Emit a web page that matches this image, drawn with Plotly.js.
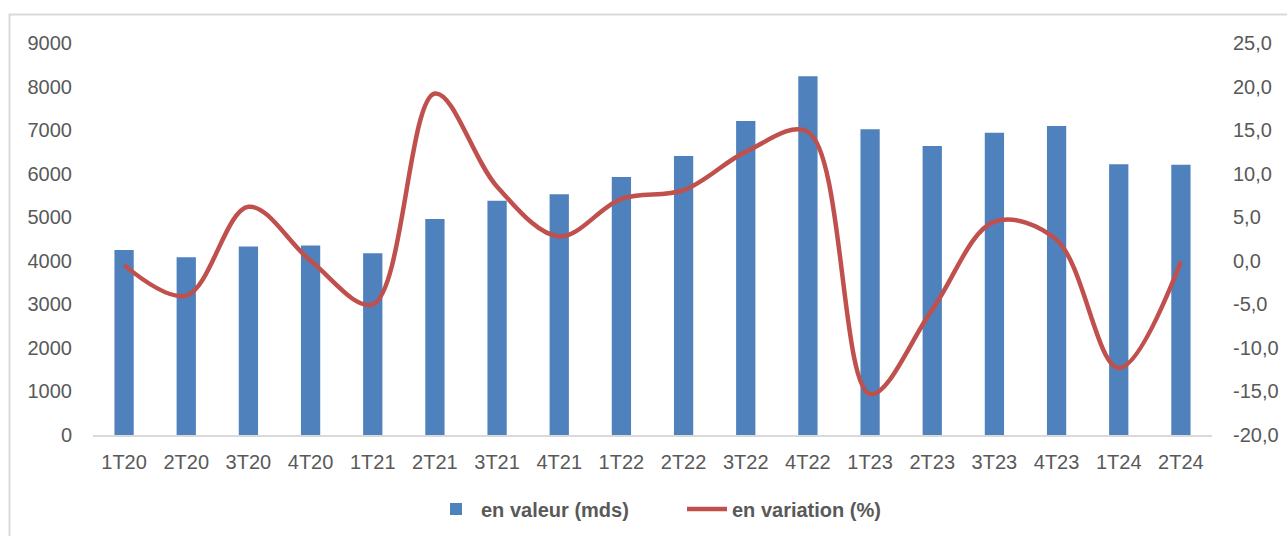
<!DOCTYPE html>
<html>
<head>
<meta charset="utf-8">
<script src="https://cdn.plot.ly/plotly-3.0.1.min.js"></script>
<style>
html,body{margin:0;padding:0;background:#fff;}
#chart{width:1287px;height:536px;}
</style>
</head>
<body>
<div id="chart"></div>
<script>
const categories = ['1T20','2T20','3T20','4T20','1T21','2T21','3T21','4T21','1T22','2T22','3T22','4T22','1T23','2T23','3T23','4T23','1T24','2T24'];
const valeur = [4250,4080,4330,4350,4170,4960,5380,5525,5925,6405,7210,8235,7020,6635,6940,7095,6215,6205];
const variation = [-0.5,-4.0,6.2,0.0,-5.0,19.2,8.5,2.8,7.1,8.1,12.5,14.8,-15.3,-5.6,4.5,2.4,-12.3,-0.1];
const leftTickVals = [0,1000,2000,3000,4000,5000,6000,7000,8000,9000];
const rightTickVals = [-20,-15,-10,-5,0,5,10,15,20,25];
const rightTickLabels = ['-20,0','-15,0','-10,0','-5,0','0,0','5,0','10,0','15,0','20,0','25,0'];
const seriesNames = ['en valeur (mds)','en variation (%)'];

const fontFamily = 'Liberation Sans, Arial, sans-serif';
const tickColor = '#595959';

const traces = [
  {
    type: 'bar',
    name: seriesNames[0],
    x: categories,
    y: valeur,
    marker: {color: '#4F81BD'},
    yaxis: 'y'
  },
  {
    type: 'scatter',
    mode: 'lines',
    name: seriesNames[1],
    x: categories,
    y: variation,
    line: {color: '#C0504D', width: 4.5, shape: 'spline', smoothing: 1},
    yaxis: 'y2'
  }
];

const L = 93, R = 75, T = 43, B = 101;
const W = 1287 - L - R, H = 536 - T - B;
const px = v => (v - L) / W;
const py = v => (536 - B - v) / H;

const layout = {
  width: 1287,
  height: 536,
  margin: {l: L, r: R, t: T, b: B, pad: 0, autoexpand: false},
  paper_bgcolor: '#ffffff',
  plot_bgcolor: '#ffffff',
  font: {family: fontFamily, size: 20, color: tickColor},
  bargap: 0.69,
  showlegend: true,
  legend: {
    orientation: 'h',
    x: px(682), xanchor: 'center',
    y: py(509), yanchor: 'middle',
    font: {family: fontFamily, size: 20, color: tickColor, weight: 'bold'},
    itemwidth: 40,
    entrywidth: 196,
    tracegroupgap: 0
  },
  xaxis: {
    type: 'category',
    showgrid: false,
    showline: true,
    linecolor: '#D9D9D9',
    linewidth: 2,
    ticks: '',
    ticklabelstandoff: 8,
    tickfont: {family: fontFamily, size: 20, color: tickColor},
    fixedrange: true
  },
  yaxis: {
    range: [0, 9000],
    tickvals: leftTickVals,
    showgrid: false,
    zeroline: false,
    showline: false,
    ticks: '',
    ticklabelstandoff: 20,
    tickfont: {family: fontFamily, size: 20, color: tickColor}
  },
  yaxis2: {
    range: [-20, 25],
    overlaying: 'y',
    side: 'right',
    tickvals: rightTickVals,
    ticktext: rightTickLabels,
    showgrid: false,
    zeroline: false,
    showline: false,
    ticks: '',
    ticklabelstandoff: 20,
    tickfont: {family: fontFamily, size: 20, color: tickColor}
  },
  shapes: [
    {
      type: 'rect',
      xref: 'paper', yref: 'paper',
      x0: px(9.5), x1: px(1300),
      y0: py(560), y1: py(14.5),
      line: {color: '#D9D9D9', width: 2},
      fillcolor: 'rgba(0,0,0,0)',
      layer: 'below'
    }
  ]
};

Plotly.newPlot('chart', traces, layout, {displayModeBar: false, staticPlot: true});
</script>
</body>
</html>
